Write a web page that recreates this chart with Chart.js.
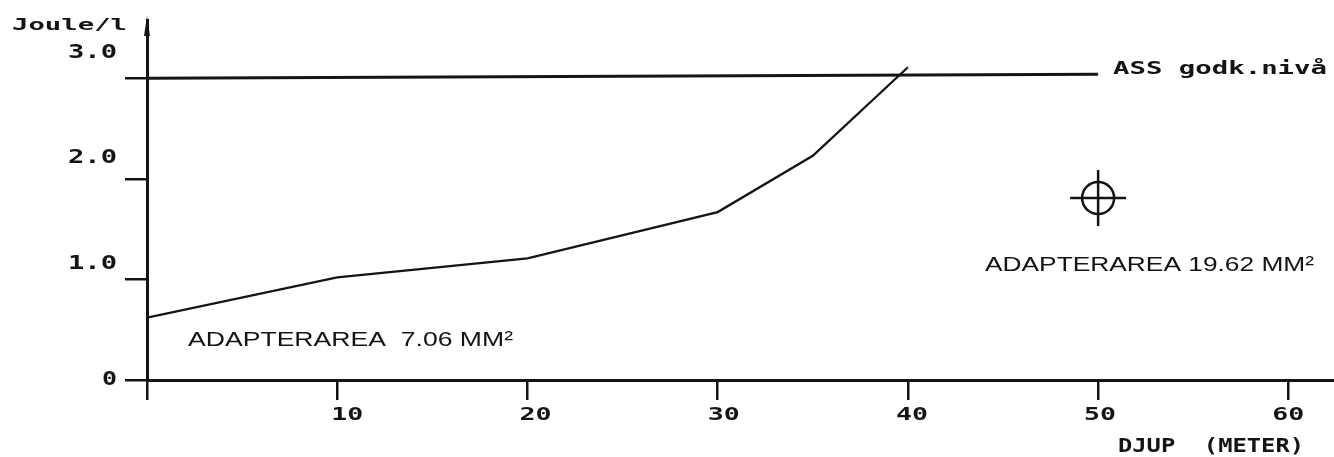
<!DOCTYPE html>
<html>
<head>
<meta charset="utf-8">
<script src="https://cdn.jsdelivr.net/npm/chart.js@4"></script>
<style>
  html, body { margin: 0; padding: 0; background: #fff; }
  canvas { display: block; }
</style>
</head>
<body>
<canvas id="chart" width="1334" height="457"></canvas>
<script>
// depth (m) vs energy (Joule/l)
var depth = [0, 10, 20, 30, 35, 40];
var energy = [0.62, 1.02, 1.21, 1.67, 2.23, 3.11];

// approved level line (ASS godk.nivå)
var levelDepth = [0, 50];
var levelValue = [3.0, 3.04];

// crosshair marker
var markDepth = [50];
var markValue = [1.81];

var xTicks = [0, 10, 20, 30, 40, 50, 60];
var yTicks = [0, 1, 2, 3];
var xTickLabels = ['', '10', '20', '30', '40', '50', '60'];
var yTickLabels = ['0', '1.0', '2.0', '3.0'];

var ink = '#141414';

function pts(xs, ys) {
  return xs.map(function (x, i) { return { x: x, y: ys[i] }; });
}

// stretched text, like the plotter lettering
function wideText(ctx, txt, x, y, font, width, align) {
  ctx.save();
  ctx.font = font;
  var w = ctx.measureText(txt).width;
  var sx = width / w;
  var left = x;
  if (align === 'right') left = x - width;
  if (align === 'center') left = x - width / 2;
  ctx.translate(left, y);
  ctx.scale(sx, 1);
  ctx.textAlign = 'left';
  ctx.textBaseline = 'middle';
  ctx.fillStyle = ink;
  ctx.fillText(txt, 0, 0);
  ctx.restore();
}

var labelsPlugin = {
  id: 'labels',
  afterDraw: function (chart) {
    var ctx = chart.ctx;
    var xs = chart.scales.x, ys = chart.scales.y;
    var mono = '"DejaVu Sans Mono", "Liberation Mono", monospace';

    // arrow head on the y axis
    var ax = xs.getPixelForValue(0);
    ctx.save();
    ctx.fillStyle = ink;
    ctx.beginPath();
    ctx.moveTo(ax, chart.chartArea.top - 4);
    ctx.lineTo(ax - 3, chart.chartArea.top + 16);
    ctx.lineTo(ax + 3, chart.chartArea.top + 16);
    ctx.closePath();
    ctx.fill();
    ctx.restore();

    // y tick labels, set above their ticks
    yTicks.forEach(function (v, i) {
      var py = ys.getPixelForValue(v);
      var lift = v > 0 ? 10 + 5.3 * v : 0;
      var t = yTickLabels[i];
      wideText(ctx, t, 117, py - lift, 'bold 20px ' + mono, t.length === 1 ? 15 : 49, 'right');
    });

    // x tick labels, a little right of their ticks
    xTicks.forEach(function (v, i) {
      var t = xTickLabels[i];
      if (!t) return;
      var px = xs.getPixelForValue(v);
      wideText(ctx, t, px + 12 - 0.2 * v, 415, 'bold 18px ' + mono, 32, 'center');
    });

    // axis titles
    wideText(ctx, 'Joule/l', 12, 26, 'bold 16px ' + mono, 115, 'left');
    wideText(ctx, 'DJUP  (METER)', 1118, 447, 'bold 19px ' + mono, 186, 'left');
    wideText(ctx, 'ASS godk.nivå', 1113, 70, 'bold 17px ' + mono, 214, 'left');

    // annotations
    var sans = '21px "Liberation Sans", Arial, sans-serif';
    wideText(ctx, 'ADAPTERAREA  7.06 MM²', 188, 340, sans, 325, 'left');
    wideText(ctx, 'ADAPTERAREA 19.62 MM²', 985, 265, sans, 329, 'left');
  }
};

var options = {
  type: 'scatter',
  data: {
    datasets: [
      {
        label: 'Adapterarea 7.06',
        data: pts(depth, energy),
        showLine: true,
        borderColor: ink,
        borderWidth: 2.3,
        pointRadius: 0,
        tension: 0
      },
      {
        label: 'ASS godk.niva',
        data: pts(levelDepth, levelValue),
        showLine: true,
        borderColor: ink,
        borderWidth: 3,
        pointRadius: 0
      },
      {
        label: 'mark circle',
        data: pts(markDepth, markValue),
        pointStyle: 'circle',
        pointRadius: 16,
        pointBorderWidth: 2.5,
        pointBorderColor: ink,
        pointBackgroundColor: 'rgba(0,0,0,0)'
      },
      {
        label: 'mark cross',
        data: pts(markDepth, markValue),
        pointStyle: 'cross',
        pointRadius: 28,
        pointBorderWidth: 2.5,
        pointBorderColor: ink
      }
    ]
  },
  options: {
    responsive: false,
    animation: false,
    devicePixelRatio: 1,
    events: [],
    layout: {
      autoPadding: false,
      padding: { left: 125, right: 0, top: 20, bottom: 57 }
    },
    scales: {
      x: {
        type: 'linear',
        min: 0,
        max: 62.4,
        afterBuildTicks: function (s) {
          s.ticks = xTicks.map(function (v) { return { value: v }; });
        },
        ticks: { display: false },
        grid: {
          drawOnChartArea: false,
          drawTicks: true,
          tickLength: 20,
          color: ink,
          lineWidth: 2.5
        },
        border: { display: true, color: ink, width: 3 }
      },
      y: {
        min: 0,
        max: 3.58,
        afterBuildTicks: function (s) {
          s.ticks = yTicks.map(function (v) { return { value: v }; });
        },
        ticks: { display: false },
        grid: {
          drawOnChartArea: false,
          drawTicks: true,
          tickLength: 22,
          color: ink,
          lineWidth: 2.5
        },
        border: { display: true, color: ink, width: 3 }
      }
    },
    plugins: {
      legend: { display: false },
      tooltip: { enabled: false }
    }
  },
  plugins: [labelsPlugin]
};

var ctx = document.getElementById('chart').getContext('2d');
new Chart(ctx, options);
</script>
</body>
</html>
